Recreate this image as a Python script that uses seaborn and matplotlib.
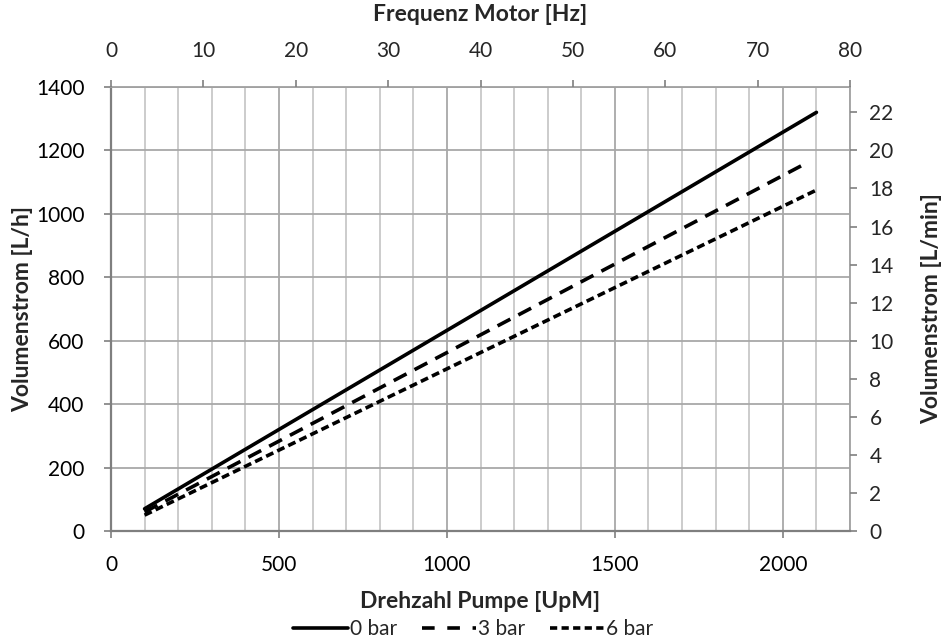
import numpy as np
import pandas as pd
import matplotlib
matplotlib.use("Agg")
import matplotlib.pyplot as plt
import seaborn as sns
from matplotlib.ticker import MultipleLocator
from matplotlib.lines import Line2D

# data
rpm_0bar = [100, 2100]
flow_0bar = [70, 1320]
rpm_3bar = [100, 2070]
flow_3bar = [60, 1160]
rpm_6bar = [100, 2100]
flow_6bar = [50, 1075]
series_names = ["0 bar", "3 bar", "6 bar"]

df = pd.concat([
    pd.DataFrame({"rpm": rpm_0bar, "flow": flow_0bar, "p": series_names[0]}),
    pd.DataFrame({"rpm": rpm_3bar, "flow": flow_3bar, "p": series_names[1]}),
    pd.DataFrame({"rpm": rpm_6bar, "flow": flow_6bar, "p": series_names[2]}),
], ignore_index=True)

sns.set_theme(style="white")
plt.rcParams["font.family"] = ["Lato", "DejaVu Sans"]

TICK_FS = 15
LAB_FS = 16.5

fig = plt.figure(figsize=(9.47, 6.43), dpi=100)
ax = fig.add_axes([0.1172, 0.1742, 0.7804, 0.6905])

sns.lineplot(data=df, x="rpm", y="flow", hue="p", style="p",
             palette=["black"] * 3,
             dashes={"0 bar": "", "3 bar": (4, 2.5), "6 bar": (2.2, 1.2)},
             linewidth=2.6, ax=ax, legend=False, zorder=5)

ax.set_xlim(0, 2200)
ax.set_ylim(0, 1400)
ax.xaxis.set_major_locator(MultipleLocator(500))
ax.xaxis.set_minor_locator(MultipleLocator(100))
ax.yaxis.set_major_locator(MultipleLocator(200))
ax.grid(which="minor", axis="x", color="#c8c8c8", linewidth=1.3)
ax.grid(which="major", axis="x", color="#a8a8a8", linewidth=1.3)
ax.grid(which="major", axis="y", color="#a8a8a8", linewidth=1.3)
ax.set_axisbelow(True)

for s in ["left", "bottom"]:
    ax.spines[s].set_color("#7f7f7f")
    ax.spines[s].set_linewidth(1.6)
for s in ["top", "right"]:
    ax.spines[s].set_color("#a0a0a0")
    ax.spines[s].set_linewidth(1.3)

ax.tick_params(axis="both", which="major", labelsize=TICK_FS, direction="out",
               length=5, color="#7f7f7f", width=1.2, labelcolor="black")
ax.tick_params(axis="x", which="minor", length=0)
ax.tick_params(axis="x", which="major", pad=12)
ax.tick_params(axis="y", which="major", pad=14)
ax.set_xlabel("Drehzahl Pumpe [UpM]", fontsize=LAB_FS, fontweight="bold", labelpad=12)
ax.set_ylabel("Volumenstrom [L/h]", fontsize=LAB_FS, fontweight="bold", labelpad=2)

# top axis: motor frequency
axt = ax.twiny()
axt.set_xlim(0, 80)
axt.xaxis.set_major_locator(MultipleLocator(10))
axt.tick_params(axis="x", labelsize=TICK_FS, direction="out", length=5,
                color="#7f7f7f", width=1.2, pad=14)
axt.set_xlabel("Frequenz Motor [Hz]", fontsize=LAB_FS, fontweight="bold", labelpad=14)

# right axis: L/min
axr = ax.twinx()
axr.set_yticks(np.arange(0, 23, 2))
axr.set_ylim(0, 1400 / 60)
axr.tick_params(axis="y", labelsize=TICK_FS, direction="out", length=5,
                color="#7f7f7f", width=1.2, pad=9)
axr.set_ylabel("Volumenstrom [L/min]", fontsize=LAB_FS, fontweight="bold", labelpad=20)

for a in (axt, axr):
    for s in a.spines.values():
        s.set_visible(False)

# legend
handles = [
    Line2D([], [], color="black", lw=2.6, linestyle="-"),
    Line2D([], [], color="black", lw=2.6, linestyle=(0, (3.5, 3.5))),
    Line2D([], [], color="black", lw=2.6, linestyle=(0, (2.0, 1.2))),
]
fig.legend(handles, series_names, loc="center", bbox_to_anchor=(0.5, 0.022),
           ncol=3, frameon=False, fontsize=TICK_FS, handlelength=2.6,
           handletextpad=0.1, columnspacing=1.2)

fig.savefig("out.png", dpi=100)
